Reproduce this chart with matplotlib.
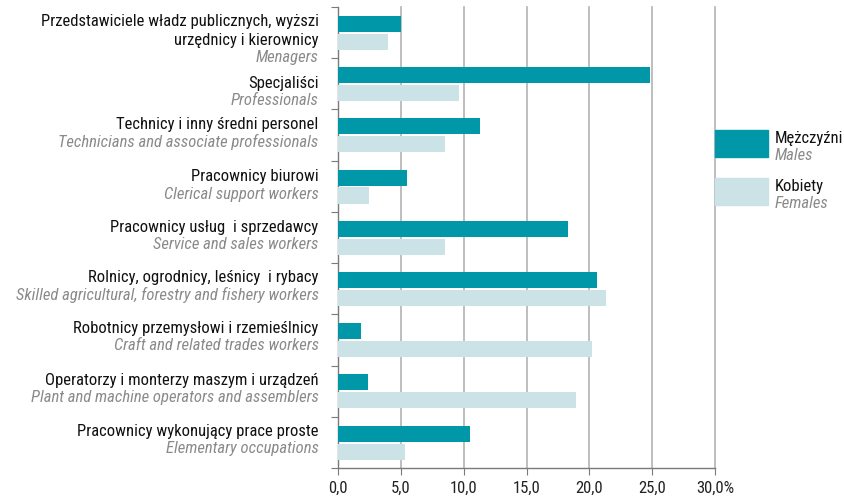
import matplotlib
matplotlib.use("Agg")
import matplotlib.pyplot as plt
from matplotlib.patches import Rectangle
import matplotlib.transforms as mtransforms

plt.rcParams['font.family'] = ['Roboto Condensed', 'DejaVu Sans']

cats_pl = ["Przedstawiciele władz publicznych, wyższi\nurzędnicy i kierownicy",
           "Specjaliści",
           "Technicy i inny średni personel",
           "Pracownicy biurowi",
           "Pracownicy usług  i sprzedawcy",
           "Rolnicy, ogrodnicy, leśnicy  i rybacy",
           "Robotnicy przemysłowi i rzemieślnicy",
           "Operatorzy i monterzy maszym i urządzeń",
           "Pracownicy wykonujący prace proste"]
cats_en = ["Menagers",
           "Professionals",
           "Technicians and associate professionals",
           "Clerical support workers",
           "Service and sales workers",
           "Skilled agricultural, forestry and fishery workers",
           "Craft and related trades workers",
           "Plant and machine operators and assemblers",
           "Elementary occupations"]
males = [5.0, 24.8, 11.3, 5.5, 18.3, 20.6, 1.8, 2.4, 10.5]
females = [4.0, 9.6, 8.5, 2.5, 8.5, 21.3, 20.2, 18.9, 5.3]
xticks = [0, 5, 10, 15, 20, 25, 30]
xtick_labels = ["0,0", "5,0", "10,0", "15,0", "20,0", "25,0", "30,0%"]
legend_pl = ["Mężczyźni", "Kobiety"]
legend_en = ["Males", "Females"]

C_M = '#0097a8'
C_F = '#cbe3e6'
GRAY_TXT = '#8a8a8a'
FS = 12

W, H = 844, 497
fig = plt.figure(figsize=(W/100, H/100), dpi=100)
ax = fig.add_axes([338/W, (H-468)/H, (715-338)/W, (468-7)/H])

n = len(cats_pl)
ys = list(range(n))
bh = 0.3125
ax.barh([y - 0.17 for y in ys], males, height=bh, color=C_M, zorder=3)
ax.barh([y + 0.18 for y in ys], females, height=bh, color=C_F, zorder=3)

ax.set_xlim(0, 30)
ax.set_ylim(n - 0.5, -0.5)
for x in xticks[1:]:
    ax.axvline(x, color='#b3b3b3', lw=1.2, zorder=1, clip_on=False)

ax.set_xticks(xticks)
ax.set_xticklabels(xtick_labels, fontsize=FS)
ax.set_yticks([i - 0.5 for i in range(n + 1)])
ax.set_yticklabels([])
for s in ['top', 'right']:
    ax.spines[s].set_visible(False)
for s in ['left', 'bottom']:
    ax.spines[s].set_color('#7a7a7a')
    ax.spines[s].set_linewidth(1.0)
ax.tick_params(axis='x', direction='out', length=5, color='#7a7a7a', pad=4, labelcolor='#222222')
ax.tick_params(axis='y', direction='out', length=5, color='#7a7a7a')

trans = mtransforms.blended_transform_factory(ax.transAxes, ax.transData)
# anchor offset (points) between the Polish and English lines, relative to category centre
anchor = [-12, -6, 1.5, 0.5, 1, 2, 2, 1.5, 1.8]
for i in range(n):
    a = anchor[i]
    ax.annotate(cats_pl[i], xy=(0, i), xycoords=trans,
                xytext=(-14, a + 0.8), textcoords='offset points',
                ha='right', va='bottom', fontsize=FS, color='#111111',
                linespacing=1.33, annotation_clip=False)
    ax.annotate(cats_en[i], xy=(0, i), xycoords=trans,
                xytext=(-14, a - 0.8), textcoords='offset points',
                ha='right', va='top', fontsize=FS, color=GRAY_TXT,
                style='italic', annotation_clip=False)

# legend
sw = [(130, 157), (178, 205)]
cols = [C_M, C_F]
for (y0, y1), c, pl, en in zip(sw, cols, legend_pl, legend_en):
    yc = y0 + (y1 - y0) / 2 + 3
    fig.patches.append(Rectangle((715/W, (H-y1)/H), 53/W, (y1-y0)/H,
                                 transform=fig.transFigure, color=c, zorder=5))
    fig.text(775/W, (H - yc + 0.5)/H, pl, ha='left', va='bottom',
             fontsize=FS, color='#111111')
    fig.text(775/W, (H - yc - 1.5)/H, en, ha='left', va='top',
             fontsize=FS, color=GRAY_TXT, style='italic')

fig.savefig('out.png', dpi=100)
